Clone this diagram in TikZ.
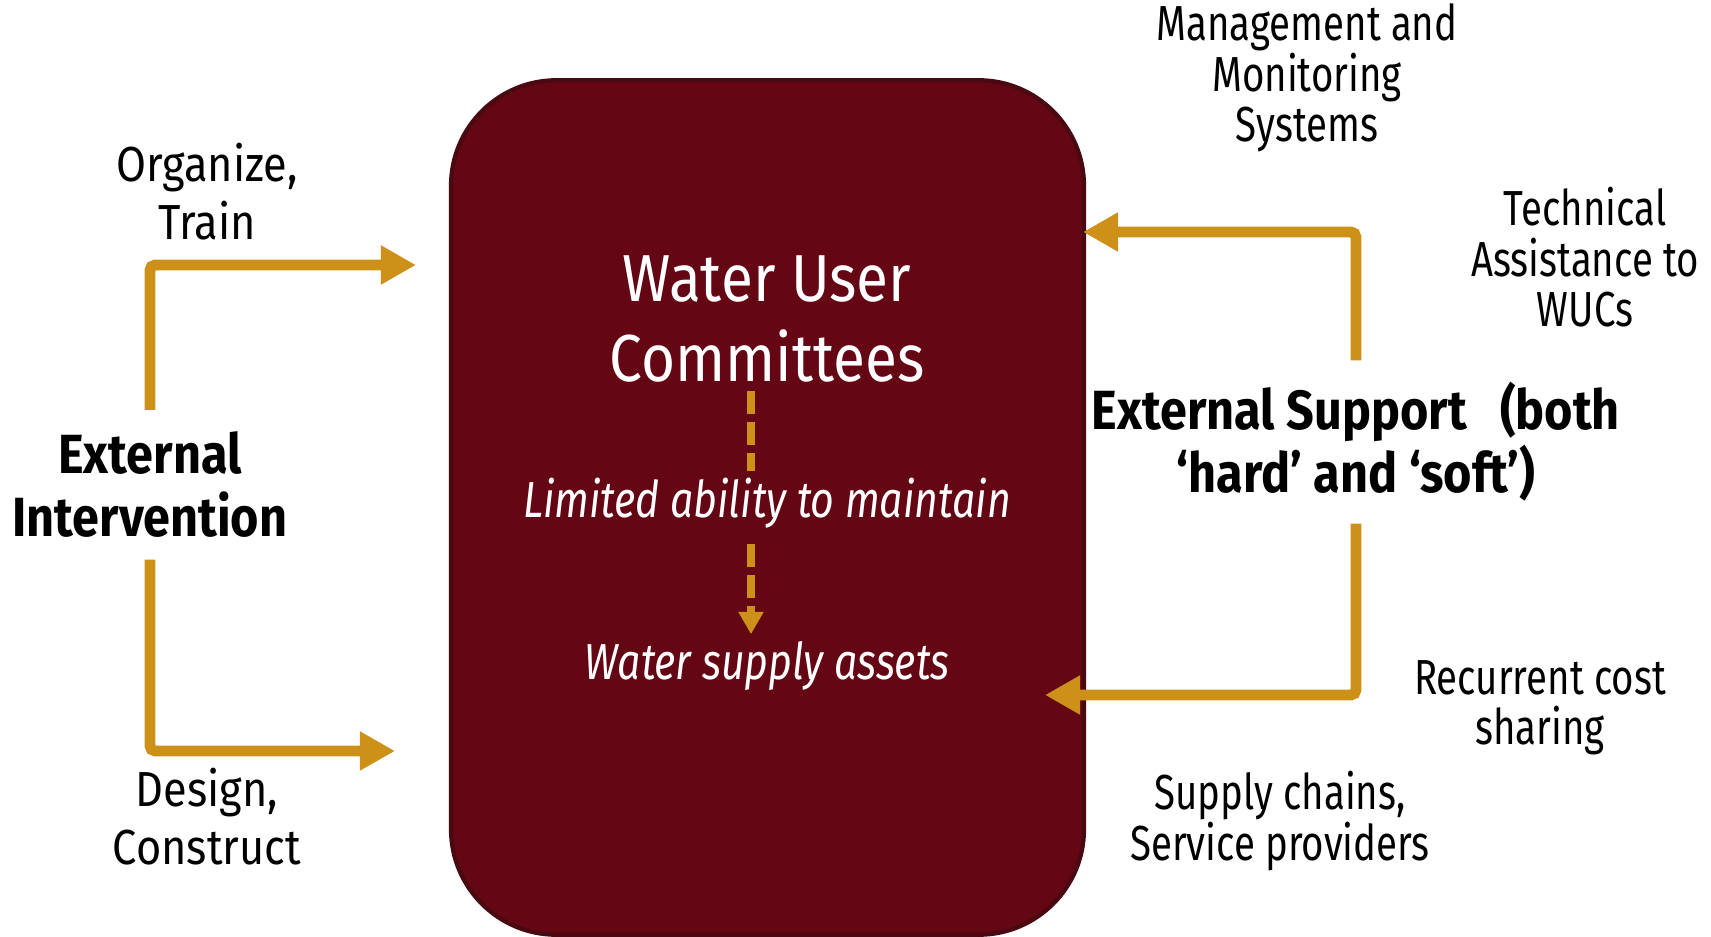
\documentclass[tikz,border=0pt]{standalone}
\usepackage{fontspec}
\setmainfont{Fira Sans}
\newfontfamily\narrowfont{Fira Sans}[FakeStretch=0.88]
\newfontfamily\slimfont{Fira Sans}[FakeStretch=0.81]
\newfontfamily\notefont{Fira Sans}[FakeStretch=0.78]
\usetikzlibrary{arrows.meta,positioning}
\definecolor{wucred}{HTML}{640614}
\definecolor{wucedge}{HTML}{4A0810}
\definecolor{gold}{HTML}{CD9018}

\tikzset{
  flow/.style={draw=gold, line width=3.1pt, rounded corners=1.5pt,
    -{Triangle[length=10pt,width=10.5pt]}},
  dashflow/.style={draw=gold, line width=2.3pt, dash pattern=on 6.6pt off 2.3pt},
  note/.style={align=center, inner sep=2pt, anchor=base,
    font=\notefont\fontsize{14pt}{14.5pt}\selectfont},
  leftnote/.style={note, font=\narrowfont\fontsize{14pt}{16.5pt}\selectfont},
  heading/.style={align=center, inner sep=6pt, anchor=base,
    font=\narrowfont\bfseries\fontsize{15.7pt}{18pt}\selectfont},
  intext/.style={align=center, inner sep=2pt, text=white, anchor=base}
}

\begin{document}
\begin{tikzpicture}[x=0.01cm,y=-0.01cm]
\useasboundingbox (0,0) rectangle (1711,937);

% the committees box
\node[fill=wucred, draw=wucedge, line width=1.2pt, rounded corners=30pt,
  minimum width=180pt, minimum height=243pt] (wuc) at (767.5,507.5) {};
\node[intext, font=\narrowfont\fontsize{18.9pt}{22.8pt}\selectfont] (wut) at (767,382) {Water User\\Committees};
\node[intext, font=\slimfont\itshape\fontsize{14.4pt}{16pt}\selectfont] (limit) at (767,518) {Limited ability to maintain};
\node[intext, font=\slimfont\itshape\fontsize{14.4pt}{16pt}\selectfont] (assets) at (767,680) {Water supply assets};
\coordinate (dashx) at (751,0);
\draw[dashflow] (wut.south -| dashx) -- (limit.north -| dashx);
\draw[dashflow, -{Triangle[length=6.4pt,width=6.8pt]}, shorten <=2pt] (limit.south -| dashx) -- (assets.north -| dashx);

% left side
\node[heading] (extint) at (150,537) {External\\Intervention};
\node[leftnote] (orgtrain) at (207,240) {Organize,\\Train};
\node[leftnote] (design) at (207,865) {Design,\\Construct};
\coordinate (orgtip) at (416,265);
\coordinate (destip) at (395,751);
\draw[flow] (extint.north) |- (orgtip);
\draw[flow] (extint.south) |- (destip);

% right side
\node[heading] (extsup) at (1356,493) {External Support\hspace{0.6em}(both\\‘hard’ and ‘soft’)};
\node[note] (mms) at (1307,142) {Management and\\Monitoring\\Systems};
\node[note] (tech) at (1585,327) {Technical\\Assistance to\\WUCs};
\node[note] (recur) at (1540,745) {Recurrent cost\\sharing};
\node[note] (supply) at (1280,860) {Supply chains,\\Service providers};
\coordinate (tatip) at (1083,232);
\coordinate (costtip) at (1045,695);
\draw[flow] (extsup.north) |- (tatip);
\draw[flow] (extsup.south) |- (costtip);
\end{tikzpicture}
\end{document}
